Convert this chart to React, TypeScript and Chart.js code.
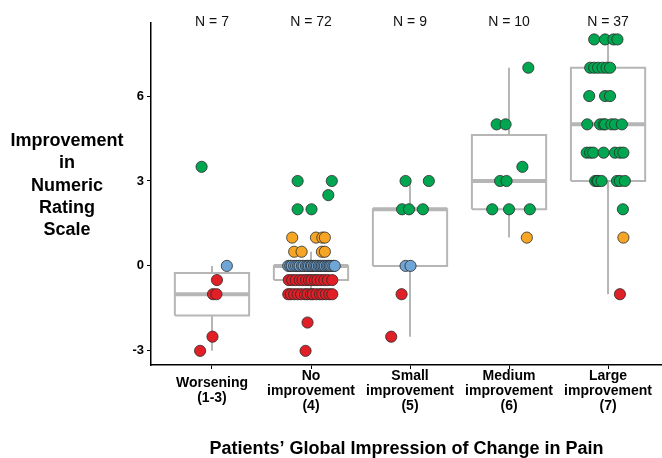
import React, { useEffect, useRef } from "react";
import Chart from "chart.js/auto";

// ---------- data ----------
const CATEGORIES: string[][] = [
  ["Worsening", "(1-3)"],
  ["No", "improvement", "(4)"],
  ["Small", "improvement", "(5)"],
  ["Medium", "improvement", "(6)"],
  ["Large", "improvement", "(7)"],
];
const CATEGORY_POS = [1, 2, 3, 4, 5];
const N_LABELS = ["N = 7", "N = 72", "N = 9", "N = 10", "N = 37"];
const Y_TICKS = [-3, 0, 3, 6];

// individual patient values and their horizontal jitter (category units)
const worseningValues = [3.5, 0, -0.5, -1, -1, -2.5, -3];
const worseningJitter = [-0.105, 0.15, 0.05, 0.01, 0.045, 0.005, -0.12];

const noImprValues = [
  3, 3, 2.5, 2, 2,
  1, 1, 1, 1, 0.5, 0.5, 0.5, 0.5,
  0, 0, 0, 0, 0, 0, 0, 0, 0, 0, 0, 0, 0, 0, 0, 0, 0, 0, 0, 0, 0, 0, 0, 0, 0, 0, 0, 0,
  -0.5, -0.5, -0.5, -0.5, -0.5, -0.5, -0.5, -0.5, -0.5, -0.5, -0.5, -0.5, -0.5, -0.5,
  -1, -1, -1, -1, -1, -1, -1, -1, -1, -1, -1, -1, -1, -1, -1,
  -2, -3,
];
const noImprJitter = [
  -0.135, 0.21, 0.175, -0.135, 0.005,
  -0.19, 0.05, 0.115, 0.14, -0.17, -0.095, 0.11, 0.14,
  -0.23, -0.21, -0.195, -0.17, -0.15, -0.13, -0.115, -0.09, -0.075, -0.05, -0.035, -0.02, 0.0, 0.01,
  0.03, 0.045, 0.06, 0.08, 0.095, 0.11, 0.125, 0.14, 0.16, 0.175, 0.19, 0.205, 0.225, 0.24,
  -0.225, -0.19, -0.155, -0.115, -0.085, -0.05, -0.02, 0.005, 0.04, 0.065, 0.1, 0.135, 0.17, 0.215,
  -0.23, -0.205, -0.17, -0.135, -0.1, -0.06, -0.035, 0.0, 0.02, 0.055, 0.09, 0.115, 0.15, 0.185, 0.215,
  -0.035, -0.055,
];

const smallValues = [3, 3, 2, 2, 2, 0, 0, -1, -2.5];
const smallJitter = [-0.045, 0.19, -0.08, -0.01, 0.13, -0.045, 0.005, -0.085, -0.19];

const mediumValues = [7, 5, 5, 3.5, 3, 3, 2, 2, 2, 1];
const mediumJitter = [0.195, -0.125, -0.035, 0.135, -0.09, -0.025, -0.17, 0.0, 0.21, 0.18];

const largeValues = [
  8, 8, 8, 8,
  7, 7, 7, 7, 7, 7,
  6, 6, 6,
  5, 5, 5, 5, 5, 5, 5,
  4, 4, 4, 4, 4, 4, 4,
  3, 3, 3, 3, 3, 3, 3,
  2, 1, -1,
];
const largeJitter = [
  -0.14, -0.03, 0.055, 0.095,
  -0.18, -0.14, -0.1, -0.055, -0.015, 0.02,
  -0.19, -0.03, 0.02,
  -0.21, -0.08, -0.045, -0.03, 0.035, 0.07, 0.14,
  -0.215, -0.18, -0.15, -0.045, 0.07, 0.12, 0.155,
  -0.13, -0.11, -0.1, -0.065, 0.09, 0.12, 0.17,
  0.15, 0.155, 0.12,
];

const GROUP_VALUES = [worseningValues, noImprValues, smallValues, mediumValues, largeValues];
const GROUP_JITTER = [worseningJitter, noImprJitter, smallJitter, mediumJitter, largeJitter];

// box-plot statistics
const boxQ1 = [-1.75, -0.5, 0, 2, 3];
const boxMedian = [-1, 0, 2, 3, 5];
const boxQ3 = [-0.25, 0, 2, 4.625, 7];
const whiskerLow = [-3, -1, -2.5, 1, -1];
const whiskerHigh = [0, 0.5, 3, 7, 8];

// ---------- style ----------
const FONT = "'Liberation Sans', Arial, sans-serif";
const BOX_HALF = 0.375;
const BOX_COLOR = "#b6b6b6";
const GREEN = "#00a650";
const ORANGE = "#f6a524";
const BLUE = "#6fa6d6";
const RED = "#e01f27";

function colorFor(v: number) {
  if (v >= 2) return GREEN;
  if (v > 0) return ORANGE;
  if (v === 0) return BLUE;
  return RED;
}

const Y_TITLE = ["Improvement", "in", "Numeric", "Rating", "Scale"];
const X_TITLE = "Patients\u2019 Global Impression of Change in Pain";

const textPlugin = {
  id: "extraText",
  afterDraw(chart: any) {
    const ctx = chart.ctx;
    const xs = chart.scales.x;
    ctx.save();
    ctx.fillStyle = "#000";
    ctx.textAlign = "center";
    ctx.textBaseline = "middle";
    ctx.font = `bold 18px ${FONT}`;
    Y_TITLE.forEach((line, i) => ctx.fillText(line, 67, 141 + i * 22.3));
    ctx.font = `14px ${FONT}`;
    ctx.fillStyle = "#111";
    N_LABELS.forEach((t, i) => ctx.fillText(t, xs.getPixelForValue(CATEGORY_POS[i]), chart.chartArea.top - 1));
    ctx.restore();
  },
};

function lineDs(points: { x: number; y: number }[], width: number) {
  return {
    type: "scatter" as const,
    data: points,
    showLine: true,
    borderColor: BOX_COLOR,
    borderWidth: width,
    pointRadius: 0,
    pointHoverRadius: 0,
    fill: false,
    order: 2,
    borderJoinStyle: "miter" as const,
    borderCapStyle: "butt" as const,
  };
}

export default function App() {
  const ref = useRef<HTMLCanvasElement>(null);
  useEffect(() => {
    const boxDatasets: any[] = [];
    CATEGORY_POS.forEach((c, i) => {
      boxDatasets.push(
        lineDs(
          [
            { x: c - BOX_HALF, y: boxQ1[i] },
            { x: c + BOX_HALF, y: boxQ1[i] },
            { x: c + BOX_HALF, y: boxQ3[i] },
            { x: c - BOX_HALF, y: boxQ3[i] },
            { x: c - BOX_HALF, y: boxQ1[i] },
          ],
          2
        )
      );
      boxDatasets.push(lineDs([{ x: c, y: boxQ3[i] }, { x: c, y: whiskerHigh[i] }], 2));
      boxDatasets.push(lineDs([{ x: c, y: boxQ1[i] }, { x: c, y: whiskerLow[i] }], 2));
      boxDatasets.push(
        lineDs([{ x: c - BOX_HALF, y: boxMedian[i] }, { x: c + BOX_HALF, y: boxMedian[i] }], 4)
      );
    });

    const pointDatasets = CATEGORY_POS.map((c, i) => ({
      type: "scatter" as const,
      data: GROUP_VALUES[i].map((v, j) => ({ x: c + GROUP_JITTER[i][j], y: v })),
      pointRadius: 5.6,
      pointHoverRadius: 5.6,
      pointBorderWidth: 0.8,
      pointBorderColor: "#2b2b2b",
      pointBackgroundColor: (ctx: any) => colorFor(ctx.raw ? ctx.raw.y : 0),
      showLine: false,
      order: 0,
    }));

    const chart = new Chart(ref.current as HTMLCanvasElement, {
      type: "scatter",
      data: { datasets: [...pointDatasets, ...boxDatasets] as any },
      options: {
        animation: false,
        responsive: false,
        devicePixelRatio: 1,
        layout: { autoPadding: false, padding: { top: 23, left: 0, right: 0, bottom: 0 } },
        plugins: { legend: { display: false }, tooltip: { enabled: false } },
        scales: {
          x: {
            type: "linear",
            position: "bottom",
            min: 0.384,
            max: 5.545,
            afterBuildTicks: (s: any) => {
              s.ticks = CATEGORY_POS.map((v) => ({ value: v }));
            },
            afterFit: (s: any) => {
              s.height = 93;
              s.paddingLeft = 0;
              s.paddingRight = 0;
            },
            ticks: {
              callback: (_v: any, i: number) => CATEGORIES[i],
              font: { family: FONT, size: 14, weight: "bold", lineHeight: 1.07 },
              color: "#000",
              padding: 7,
              crossAlign: "center",
              maxRotation: 0,
              autoSkip: false,
            },
            grid: { display: true, drawOnChartArea: false, drawTicks: true, tickLength: 4, color: "#000", lineWidth: 1 },
            border: { display: true, color: "#000", width: 1.5 },
            title: {
              display: true,
              text: X_TITLE,
              font: { family: FONT, size: 18, weight: "bold", lineHeight: 1 },
              color: "#000",
              padding: 0,
            },
          },
          y: {
            type: "linear",
            min: -3.5,
            max: 8.58,
            afterBuildTicks: (s: any) => {
              s.ticks = Y_TICKS.map((v) => ({ value: v }));
            },
            afterFit: (s: any) => {
              s.width = 151;
            },
            ticks: {
              font: { family: FONT, size: 13, weight: "bold" },
              color: "#000",
              padding: 3,
            },
            grid: { display: true, drawOnChartArea: false, drawTicks: true, tickLength: 4, color: "#000", lineWidth: 1 },
            border: { display: true, color: "#000", width: 1.5 },
          },
        },
      },
      plugins: [textPlugin],
    } as any);
    return () => chart.destroy();
  }, []);
  return (
    <div style={{ position: "fixed", left: 0, top: 0, width: 662, height: 458, background: "#fff" }}>
      <canvas ref={ref} width={662} height={458} style={{ display: "block" }} />
    </div>
  );
}
